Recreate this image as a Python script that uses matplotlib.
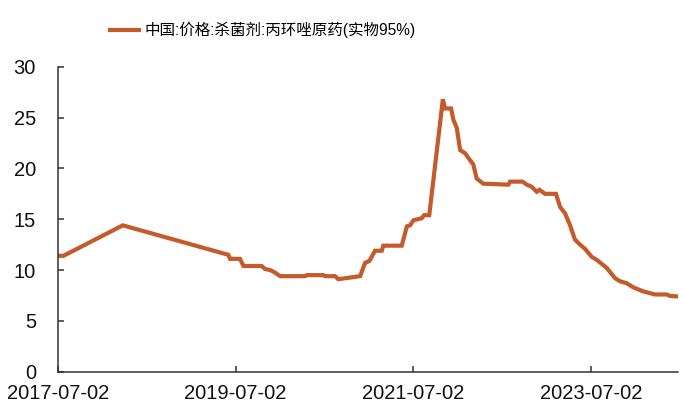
import matplotlib

matplotlib.use("Agg")

import matplotlib.pyplot as plt
import matplotlib.dates as mdates
import pandas as pd

plt.rcParams["font.family"] = ["Liberation Sans", "Noto Sans CJK SC"]

series_name = "中国:价格:杀菌剂:丙环唑原药(实物95%)"

dates = [
    "2017-07-02", "2017-07-24", "2018-03-25", "2019-06-02", "2019-06-09",
    "2019-07-20", "2019-08-03", "2019-10-17", "2019-10-31", "2019-11-21",
    "2019-12-11", "2020-01-01", "2020-04-12", "2020-04-19", "2020-06-27",
    "2020-07-04", "2020-08-14", "2020-08-27", "2020-11-25", "2020-12-15",
    "2021-01-02", "2021-01-25", "2021-02-22", "2021-02-28", "2021-05-15",
    "2021-06-05", "2021-06-18", "2021-07-02", "2021-08-05", "2021-08-15",
    "2021-09-05", "2021-10-31", "2021-11-09", "2021-12-04", "2021-12-13",
    "2021-12-27", "2022-01-10", "2022-01-30", "2022-02-20", "2022-03-05",
    "2022-03-19", "2022-04-15", "2022-07-27", "2022-08-03", "2022-09-24",
    "2022-10-11", "2022-10-31", "2022-11-21", "2022-12-02", "2022-12-25",
    "2023-02-08", "2023-02-25", "2023-03-17", "2023-04-07", "2023-04-27",
    "2023-05-18", "2023-06-07", "2023-07-05", "2023-07-26", "2023-09-05",
    "2023-10-09", "2023-10-29", "2023-11-26", "2023-12-23", "2024-02-02",
    "2024-03-21", "2024-05-08", "2024-05-22", "2024-06-25",
]
prices = [
    11.4, 11.4, 14.4, 11.5, 11.1,
    11.1, 10.4, 10.4, 10.1, 10.0,
    9.75, 9.4, 9.4, 9.5, 9.5,
    9.4, 9.4, 9.1, 9.4, 10.7,
    10.9, 11.9, 11.9, 12.4, 12.4,
    14.3, 14.4, 14.9, 15.1, 15.4,
    15.4, 26.8, 25.9, 25.9, 24.8,
    24.0, 21.8, 21.5, 20.8, 20.4,
    19.0, 18.5, 18.4, 18.7, 18.7,
    18.4, 18.2, 17.7, 17.9, 17.5,
    17.5, 16.2, 15.6, 14.4, 13.0,
    12.5, 12.1, 11.3, 11.0, 10.2,
    9.2, 8.9, 8.7, 8.3, 7.9,
    7.6, 7.6, 7.45, 7.4,
]

x_ticks = ["2017-07-02", "2019-07-02", "2021-07-02", "2023-07-02"]
y_ticks = [0, 5, 10, 15, 20, 25, 30]

line_color = "#C55A2B"

fig = plt.figure(figsize=(7, 4.2), dpi=100)
ax = fig.add_axes([0.083, 0.115, 0.886, 0.726])

ax.plot(pd.to_datetime(dates), prices, color=line_color, lw=3,
        solid_joinstyle="miter", label=series_name)

ax.set_xlim(pd.Timestamp("2017-07-02"), pd.Timestamp("2024-06-25"))
ax.set_ylim(0, 30)
ax.set_yticks(y_ticks)
ax.set_xticks(pd.to_datetime(x_ticks))
ax.xaxis.set_major_formatter(mdates.DateFormatter("%Y-%m-%d"))

for side in ("top", "right"):
    ax.spines[side].set_visible(False)
for side in ("left", "bottom"):
    ax.spines[side].set_color("#333333")
    ax.spines[side].set_linewidth(1.1)

ax.tick_params(axis="both", direction="in", length=4.5, width=1.1,
               color="#333333", labelsize=14.5, labelcolor="#111111")
ax.tick_params(axis="y", pad=16)
ax.tick_params(axis="x", pad=9)

fig.legend(loc="center", bbox_to_anchor=(0.375, 0.928), frameon=False,
           fontsize=11.2, handlelength=1.9, handletextpad=0.3)

fig.savefig("out.png", dpi=100)
plt.close(fig)
